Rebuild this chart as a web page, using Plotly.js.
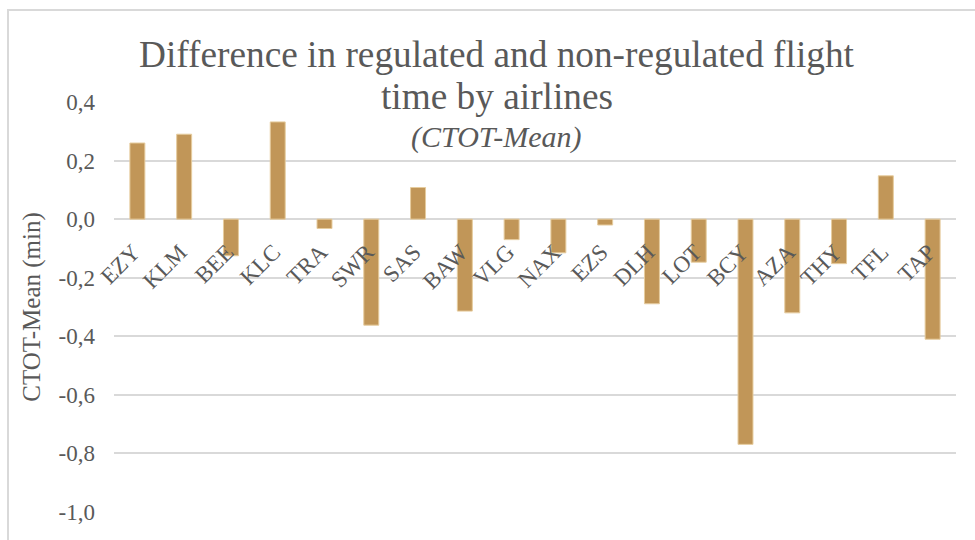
<!DOCTYPE html>
<html>
<head>
<meta charset="utf-8">
<script src="https://cdn.plot.ly/plotly-3.0.1.min.js"></script>
<style>
  html, body { margin: 0; padding: 0; background: #ffffff; }
  #wrap { position: relative; width: 975px; height: 540px; overflow: hidden; }
  #chart { width: 975px; height: 540px; }
  #frame {
    position: absolute; left: 7px; top: 9px; width: 1000px; height: 600px;
    border-left: 2px solid #d9d9d9; border-top: 2px solid #d9d9d9;
    pointer-events: none;
  }
</style>
</head>
<body>
<div id="wrap">
  <div id="chart"></div>
  <div id="frame"></div>
</div>
<script>
// Airline ICAO codes
const airlines = ["EZY", "KLM", "BEE", "KLC", "TRA", "SWR", "SAS", "BAW", "VLG",
                  "NAX", "EZS", "DLH", "LOT", "BCY", "AZA", "THY", "TFL", "TAP"];

// CTOT minus mean flight time, in minutes
const ctotMinusMean = [0.26, 0.29, -0.125, 0.332, -0.032, -0.362, 0.108, -0.314, -0.07,
                       -0.115, -0.02, -0.289, -0.147, -0.769, -0.32, -0.152, 0.148, -0.41];

// Value axis ticks
const yTickVals = [0.4, 0.2, 0.0, -0.2, -0.4, -0.6, -0.8, -1.0];
const yTickText = ["0,4", "0,2", "0,0", "-0,2", "-0,4", "-0,6", "-0,8", "-1,0"];

const serif = "Liberation Serif";
const textGrey = "#595959";
const gridGrey = "#d9d9d9";

const yMin = -1.0, yMax = 0.4;

const trace = {
  type: "bar",
  x: airlines,
  y: ctotMinusMean,
  marker: { color: "#c19658", line: { color: "#e6cc9e", width: 1 } },
  hoverinfo: "x+y"
};

const titleX = 0.4543;

const layout = {
  width: 975,
  height: 540,
  margin: { l: 114, r: 19, t: 102, b: 28, pad: 0 },
  paper_bgcolor: "rgba(0,0,0,0)",
  plot_bgcolor: "#ffffff",
  showlegend: false,
  bargap: 0.68,
  font: { family: serif, color: textGrey, size: 23 },
  xaxis: {
    type: "category",
    anchor: "free",
    // category labels sit just under the zero line
    position: (0 - yMin) / (yMax - yMin),
    showline: false,
    showgrid: false,
    zeroline: false,
    ticks: "",
    tickangle: -45,
    ticklabelstandoff: 14,
    ticklabelshift: -4,
    tickfont: { family: serif, size: 23, color: textGrey }
  },
  yaxis: {
    range: [yMin, yMax],
    tickvals: yTickVals,
    ticktext: yTickText,
    showline: false,
    showgrid: true,
    gridcolor: gridGrey,
    gridwidth: 2,
    zeroline: true,
    zerolinecolor: gridGrey,
    zerolinewidth: 2,
    ticks: "",
    ticklabelstandoff: 18,
    tickfont: { family: serif, size: 23, color: textGrey },
    title: {
      text: "CTOT-Mean (min)",
      font: { family: serif, size: 25, color: textGrey },
      standoff: 10
    }
  },
  annotations: [
    {
      text: "Difference in regulated and non-regulated flight",
      xref: "paper", yref: "paper", x: titleX, y: 1.1163,
      xanchor: "center", yanchor: "middle", showarrow: false,
      font: { family: serif, size: 37.3, color: textGrey }
    },
    {
      text: "time by airlines",
      xref: "paper", yref: "paper", x: titleX, y: 1.0139,
      xanchor: "center", yanchor: "middle", showarrow: false,
      font: { family: serif, size: 37.3, color: textGrey }
    },
    {
      text: "<i>(CTOT-Mean)</i>",
      xref: "paper", yref: "paper", x: titleX, y: 0.9149,
      xanchor: "center", yanchor: "middle", showarrow: false,
      font: { family: serif, size: 30, color: textGrey }
    }
  ]
};

Plotly.newPlot("chart", [trace], layout, { displayModeBar: false, staticPlot: true });
</script>
</body>
</html>
